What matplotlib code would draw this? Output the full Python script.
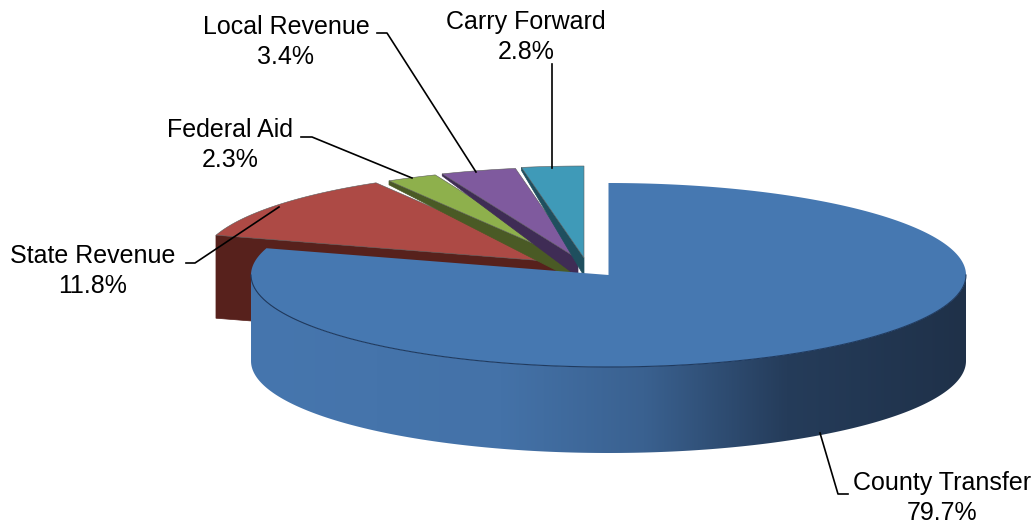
import numpy as np
import matplotlib
matplotlib.use("agg")
import matplotlib.pyplot as plt
from matplotlib.colors import LinearSegmentedColormap
from matplotlib.patches import Polygon

plt.rcParams["font.family"] = ["Liberation Sans", "DejaVu Sans"]

# data
categories = ["County Transfer", "State Revenue", "Federal Aid", "Local Revenue", "Carry Forward"]
shares = [79.7, 11.8, 2.3, 3.4, 2.8]

# colours per slice: top face, dark face
top_colors = ["#4678b1", "#ad4a45", "#8eb04c", "#7f5a9e", "#3f9ab8"]
dark_colors = ["#1f3350", "#57211c", "#4a5a25", "#3f2c55", "#1f4f5e"]

# pie geometry, in pixels
cx, cy = 608.5, 275.0
rx, ry = 357.5, 92.0
depth = 86.0
# where the tip of each pulled out slice sits relative to the centre
offsets = [(0, 0), (-50.5, -13), (-37.5, -15), (-30.5, -16), (-24.5, -17)]
# how far the cut face shows below the top face: at the rim, at the tip
cut_depth = [(0, 0), (83, 83), (4, 18), (2, 18), (3, 18)]

# label centres and leader lines
label_pos = [(942, 498), (93, 271), (230, 145), (286, 42), (526, 37)]
leaders = [
    [(820, 433), (838, 494), (848, 494)],
    [(186, 263), (195, 263), (279, 207)],
    [(301, 137), (312, 137), (412, 178)],
    [(377, 33), (387, 33), (476, 172)],
    [(552, 64), (552, 168)],
]


def rim(t, ox=0.0, oy=0.0):
    # t in degrees, clockwise from 12 o'clock
    t = np.radians(t)
    return cx + ox + rx * np.sin(t), cy + oy - ry * np.cos(t)


fig = plt.figure(figsize=(10.36, 5.24), dpi=100)
ax = fig.add_axes([0, 0, 1, 1])
ax.set_xlim(0, 1036)
ax.set_ylim(524, 0)
ax.axis("off")

edges = np.cumsum([0] + shares) / sum(shares) * 360

# back slices first, so the ones in front cover them
for i in range(len(shares) - 1, 0, -1):
    ox, oy = offsets[i]
    apex = np.array([cx + ox, cy + oy])
    tip = np.array(rim(edges[i], ox, oy))
    d_rim, d_tip = cut_depth[i]
    face = [tip, apex, apex + [0, d_tip], tip + [0, d_rim]]
    ax.add_patch(Polygon(face, closed=True, fc=dark_colors[i], ec=dark_colors[i], lw=0.5, zorder=i))
    ts = np.linspace(edges[i], edges[i + 1], 40)
    xs, ys = rim(ts, ox, oy)
    pts = np.vstack([[apex], np.column_stack([xs, ys])])
    ax.add_patch(Polygon(pts, closed=True, fc=top_colors[i], ec="#5c5c5c", lw=0.4, zorder=i))

# side of the big slice, shaded from left to right
ts = np.linspace(90, 270, 200)
xs, ys = rim(ts)
side = np.vstack([np.column_stack([xs, ys]), np.column_stack([xs[::-1], ys[::-1] + depth])])
side_patch = Polygon(side, closed=True, fc="none", ec="none", transform=ax.transData)
ax.add_patch(side_patch)
side_cmap = LinearSegmentedColormap.from_list(
    "side",
    [(0.0, "#4676ae"), (0.35, "#4472a8"), (0.55, "#3a6190"), (0.75, "#253c5a"), (1.0, "#1f3149")],
)
grad = ax.imshow(
    np.linspace(0, 1, 256)[None, :],
    cmap=side_cmap,
    extent=(cx - rx, cx + rx, cy + ry + depth, cy),
    aspect="auto",
    zorder=6,
)
grad.set_clip_path(side_patch)
ax.set_xlim(0, 1036)
ax.set_ylim(524, 0)

# top of the big slice
ts = np.linspace(edges[0], edges[1], 300)
xs, ys = rim(ts)
pts = np.vstack([[(cx, cy)], np.column_stack([xs, ys])])
ax.add_patch(Polygon(pts, closed=True, fc=top_colors[0], ec="none", zorder=7))
ts = np.linspace(90, 270, 200)
xs, ys = rim(ts)
ax.plot(xs, ys, color="#1f3a5f", lw=0.8, zorder=8)

for line in leaders:
    lx, ly = zip(*line)
    ax.plot(lx, ly, color="black", lw=1.2, zorder=9)

for name, share, (lx, ly) in zip(categories, shares, label_pos):
    ax.text(lx, ly, f"{name}\n{share}%", ha="center", va="center", fontsize=18,
            color="black", linespacing=1.33, zorder=10)

fig.savefig("out.png", dpi=100)
